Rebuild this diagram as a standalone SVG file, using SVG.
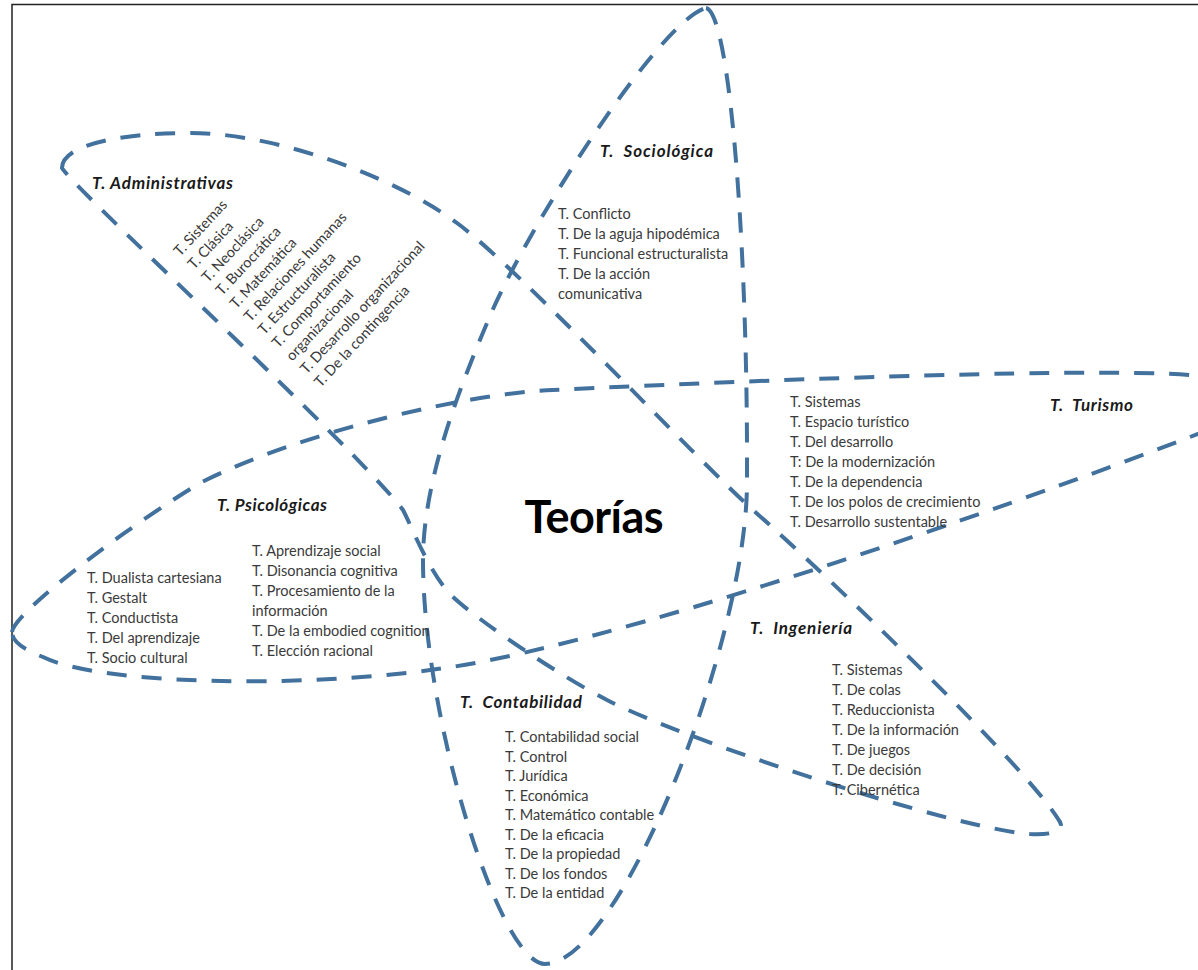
<svg xmlns="http://www.w3.org/2000/svg" width="1198" height="970" viewBox="0 0 1198 970">
  <style>
    .loop { fill: none; stroke: #41719c; stroke-width: 4; stroke-dasharray: 20 15; }
    .item { font-family: Lato, "Liberation Sans", sans-serif; font-size: 14.5px; fill: #3a3a3a; }
    .head { font-family: Lato, "Liberation Sans", sans-serif; font-size: 17px; font-weight: bold; font-style: italic; fill: #1a1a1a; white-space: pre; }
    .title { font-family: Lato, "Liberation Sans", sans-serif; font-size: 45px; font-weight: bold; fill: #000; }
  </style>

  <rect width="1198" height="970" fill="#fff"/>
  <!-- page frame (only top and left edges fall inside the view) -->
  <rect x="12" y="4.5" width="1260" height="1010" fill="none" stroke="#222" stroke-width="1.5"/>

  <!-- three overlapping dashed loops -->
  <g id="connectors">
    <path id="loop-vertical" class="loop" d="M 706,8 C 730,12 748,250 747,480 C 748,640 620,964 545,964 C 500,964 423,720 423,560 C 423,480 460,387 487,323 C 525,230 660,20 706,8 Z"/>
    <path id="loop-diagonal" class="loop" d="M 62,168 C 62,145 120,133 190,133 C 280,133 400,180 457,223 C 517,267 700,463 753,510 C 830,578 1030,770 1060,822 C 1065,832 1050,835 1030,834 C 950,828 680,738 607,700 C 560,676 480,622 453,597 C 430,575 412,527 403,510 C 353,445 75,190 62,168 Z"/>
    <path id="loop-horizontal" class="loop" d="M 12,632 C 14,612 130,525 200,483 C 300,432 470,393 553,390 C 800,378 1100,368 1190,375 C 1220,378 1245,392 1250,405 C 1250,415 1220,425 1190,437 C 1000,510 600,650 430,670 C 300,688 100,685 43,657 C 25,650 12,642 12,632 Z"/>
  </g>

  <g id="teorias">
    <text class="title" x="594" y="533" text-anchor="middle" textLength="139">Teorías</text>
  </g>

  <g id="administrativas">
    <text class="head" x="92" y="189" textLength="141">T. Administrativas</text>
    <g class="item" transform="translate(180,257) rotate(-47)">
      <text x="0" y="0">T. Sistemas</text>
      <text x="0" y="19.2">T. Clásica</text>
      <text x="0" y="38.4">T. Neoclásica</text>
      <text x="0" y="57.6">T. Burocrática</text>
      <text x="0" y="76.8">T. Matemática</text>
      <text x="0" y="96">T. Relaciones humanas</text>
      <text x="0" y="115.2">T. Estructuralista</text>
      <text x="0" y="134.4">T. Comportamiento</text>
      <text x="0" y="153.6">organizacional</text>
      <text x="0" y="172.8">T. Desarrollo organizacional</text>
      <text x="0" y="192">T. De la contingencia</text>
    </g>
  </g>

  <g id="sociologica">
    <text class="head" x="600" y="157" textLength="113">T.  Sociológica</text>
    <g class="item">
      <text x="558" y="219">T. Conflicto</text>
      <text x="558" y="239">T. De la aguja hipodémica</text>
      <text x="558" y="259">T. Funcional estructuralista</text>
      <text x="558" y="279">T. De la acción</text>
      <text x="558" y="299">comunicativa</text>
    </g>
  </g>

  <g id="turismo">
    <text class="head" x="1050" y="411" textLength="83">T.  Turismo</text>
    <g class="item">
      <text x="790" y="407">T. Sistemas</text>
      <text x="790" y="427">T. Espacio turístico</text>
      <text x="790" y="447">T. Del desarrollo</text>
      <text x="790" y="467">T: De la modernización</text>
      <text x="790" y="487">T. De la dependencia</text>
      <text x="790" y="507">T. De los polos de crecimiento</text>
      <text x="790" y="527">T. Desarrollo sustentable</text>
    </g>
  </g>

  <g id="psicologicas">
    <text class="head" x="217" y="511" textLength="110">T. Psicológicas</text>
    <g class="item">
      <text x="87" y="583">T. Dualista cartesiana</text>
      <text x="87" y="603">T. Gestalt</text>
      <text x="87" y="623">T. Conductista</text>
      <text x="87" y="643">T. Del aprendizaje</text>
      <text x="87" y="663">T. Socio cultural</text>
    </g>
    <g class="item">
      <text x="252" y="556">T. Aprendizaje social</text>
      <text x="252" y="576">T. Disonancia cognitiva</text>
      <text x="252" y="596">T. Procesamiento de la</text>
      <text x="252" y="616">información</text>
      <text x="252" y="636">T. De la embodied cognition</text>
      <text x="252" y="656">T. Elección racional</text>
    </g>
  </g>

  <g id="ingenieria">
    <text class="head" x="750" y="634" textLength="102">T.  Ingeniería</text>
    <g class="item">
      <text x="832" y="675">T. Sistemas</text>
      <text x="832" y="695">T. De colas</text>
      <text x="832" y="715">T. Reduccionista</text>
      <text x="832" y="735">T. De la información</text>
      <text x="832" y="755">T. De juegos</text>
      <text x="832" y="775">T. De decisión</text>
      <text x="832" y="795">T. Cibernética</text>
    </g>
  </g>

  <g id="contabilidad">
    <text class="head" x="460" y="708" textLength="122">T.  Contabilidad</text>
    <g class="item">
      <text x="505" y="742">T. Contabilidad social</text>
      <text x="505" y="762">T. Control</text>
      <text x="505" y="781">T. Jurídica</text>
      <text x="505" y="801">T. Económica</text>
      <text x="505" y="820">T. Matemático contable</text>
      <text x="505" y="840">T. De la eficacia</text>
      <text x="505" y="859">T. De la propiedad</text>
      <text x="505" y="879">T. De los fondos</text>
      <text x="505" y="898">T. De la entidad</text>
    </g>
  </g>
</svg>
